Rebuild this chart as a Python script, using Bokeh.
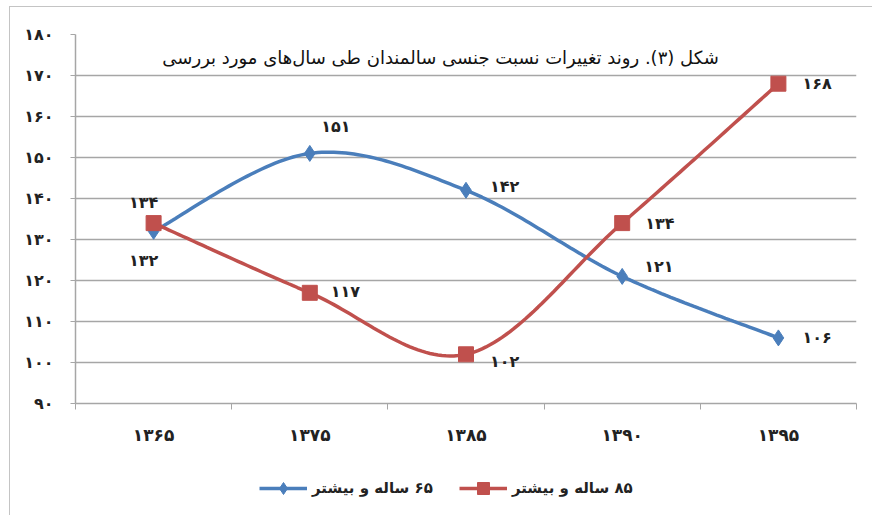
import numpy as np
from bokeh.plotting import figure
from bokeh.layouts import column
from bokeh.models import FixedTicker, Legend, LegendItem, ColumnDataSource
from bokeh.core.properties import value
from bokeh.embed import file_html
from bokeh.resources import INLINE

# ---------------- data ----------------
years = ["۱۳۶۵", "۱۳۷۵", "۱۳۸۵", "۱۳۹۰", "۱۳۹۵"]
age65 = [132, 151, 142, 121, 106]
age85 = [134, 117, 102, 134, 168]
y_ticks = [90, 100, 110, 120, 130, 140, 150, 160, 170, 180]
series_names = ["۶۵ ساله و بیشتر", "۸۵ ساله و بیشتر"]
title_text = "شکل (۳). روند تغییرات نسبت جنسی سالمندان طی سال‌های مورد بررسی"

FA = "۰۱۲۳۴۵۶۷۸۹"
def fa(n):
    return "".join(FA[int(c)] if c.isdigit() else c for c in str(n))

RLM = "\u200f"
FONT = "DejaVu Sans"
BLUE = "#4a7ebb"
RED = "#c0504d"
GRID = "#a6a6a6"
TXT = "#222222"

# label placement styles (align, dx, dy in px)
style65 = [("center", -10, 29), ("center", 26, -27), ("left", 24, -4), ("left", 22, -10), ("left", 24, 0)]
style85 = [("center", -10, -21), ("left", 21, -1), ("left", 24, 7), ("left", 23, 0), ("left", 24, 0)]
marker_style = [(BLUE, "diamond", 16), (RED, "square", 15)]


def smooth(xs, ys, n=40):
    pts = np.column_stack([xs, ys]).astype(float)
    out = []
    m = len(pts)
    for i in range(m - 1):
        p0 = pts[i - 1] if i > 0 else pts[i]
        p1 = pts[i]
        p2 = pts[i + 1]
        p3 = pts[i + 2] if i + 2 < m else pts[i + 1]
        c1 = p1 + (p2 - p0) / 6.0
        c2 = p2 - (p3 - p1) / 6.0
        t = np.linspace(0, 1, n)[:, None]
        seg = ((1 - t) ** 3) * p1 + 3 * ((1 - t) ** 2) * t * c1 + 3 * (1 - t) * t ** 2 * c2 + t ** 3 * p2
        out.append(seg if i == 0 else seg[1:])
    arr = np.vstack(out)
    return arr[:, 0], arr[:, 1]


xs = list(range(len(years)))

p = figure(width=862, height=446, x_range=(-0.5, len(years) - 0.5), y_range=(90, 180),
           output_backend="svg", toolbar_location=None,
           min_border_left=65, min_border_right=16, min_border_top=27, min_border_bottom=50)
p.outline_line_color = None
p.background_fill_color = "white"
p.border_fill_color = "white"

# axes
p.xaxis.ticker = FixedTicker(ticks=xs, minor_ticks=[x - 0.5 for x in xs] + [xs[-1] + 0.5])
p.xaxis.major_label_overrides = {i: y for i, y in enumerate(years)}
p.xaxis.major_tick_out = 0
p.xaxis.major_tick_in = 0
p.xaxis.minor_tick_out = 6
p.xaxis.minor_tick_in = 0
p.xaxis.minor_tick_line_color = GRID
p.xaxis.axis_line_color = GRID
p.xaxis.axis_line_width = 1.5
p.xaxis.major_label_text_font = FONT
p.xaxis.major_label_text_font_size = "17px"
p.xaxis.major_label_text_font_style = "bold"
p.xaxis.major_label_text_color = TXT
p.xaxis.major_label_standoff = 15

p.yaxis.ticker = FixedTicker(ticks=y_ticks, minor_ticks=[])
p.yaxis.major_label_overrides = {t: fa(t) for t in y_ticks}
p.yaxis.major_tick_out = 5
p.yaxis.major_tick_in = 0
p.yaxis.major_tick_line_color = GRID
p.yaxis.axis_line_color = GRID
p.yaxis.axis_line_width = 1.5
p.yaxis.major_label_text_font = FONT
p.yaxis.major_label_text_font_size = "16px"
p.yaxis.major_label_text_font_style = "bold"
p.yaxis.major_label_text_color = TXT
p.yaxis.major_label_standoff = 17

p.xgrid.grid_line_color = None
p.ygrid.grid_line_color = GRID
p.ygrid.grid_line_width = 1.5

# series
for vals, (color, marker, msize) in [(age65, marker_style[0]), (age85, marker_style[1])]:
    sx, sy = smooth(xs, vals)
    p.line(sx, sy, line_color=color, line_width=3.5)
    p.scatter(xs, vals, marker=marker, size=msize, fill_color=color, line_color=color)

# data labels
for vals, styles in [(age65, style65), (age85, style85)]:
    for align in ("center", "left"):
        idx = [i for i, s in enumerate(styles) if s[0] == align]
        if not idx:
            continue
        src = ColumnDataSource(dict(
            x=[xs[i] for i in idx], y=[vals[i] for i in idx],
            t=[fa(vals[i]) for i in idx],
            dx=[styles[i][1] for i in idx], dy=[styles[i][2] for i in idx]))
        p.text(x="x", y="y", text="t", x_offset="dx", y_offset="dy", source=src,
               text_align=align, text_baseline="middle", text_font=value(FONT),
               text_font_size="16px", text_font_style="bold", text_color=TXT)

# title inside plot
p.text(x=[(len(years) - 1) / 2 - 0.163], y=[174.4], text=[RLM + title_text],
       text_align="center", text_baseline="middle", text_font=value(FONT),
       text_font_size="18px", text_color="#111111")

# ---------------- legend strip (same series, drawn off-range so only the key shows) ----------------
leg = figure(width=862, height=62, x_range=(1000, 1001), y_range=(1000, 1001),
             output_backend="svg", toolbar_location=None,
             min_border_left=0, min_border_right=0, min_border_top=0, min_border_bottom=0)
leg.axis.visible = False
leg.grid.visible = False
leg.outline_line_color = None
leg.background_fill_color = "white"
leg.border_fill_color = "white"
items = []
for name, vals, (color, marker, msize) in [(series_names[0], age65, marker_style[0]),
                                            (series_names[1], age85, marker_style[1])]:
    lr = leg.line(xs, vals, line_color=color, line_width=3.5)
    mr = leg.scatter(xs, vals, marker=marker, size=msize, fill_color=color, line_color=color)
    items.append(LegendItem(label=RLM + name, renderers=[lr, mr]))

legend = Legend(items=items, orientation="horizontal", location=(184, 12),
                glyph_width=48, glyph_height=30, label_standoff=5, spacing=26,
                padding=0, margin=0, border_line_color=None, background_fill_alpha=0,
                label_text_font=FONT, label_text_font_size="15px", label_text_font_style="bold",
                label_text_color=TXT)
leg.add_layout(legend, "center")

layout = column(p, leg, spacing=0)
layout.styles = {"border-left": "1px solid #c4c4c4", "border-top": "1px solid #c4c4c4",
                 "margin-left": "9px", "margin-top": "6px"}

open("out.html", "w").write(file_html(layout, INLINE))
